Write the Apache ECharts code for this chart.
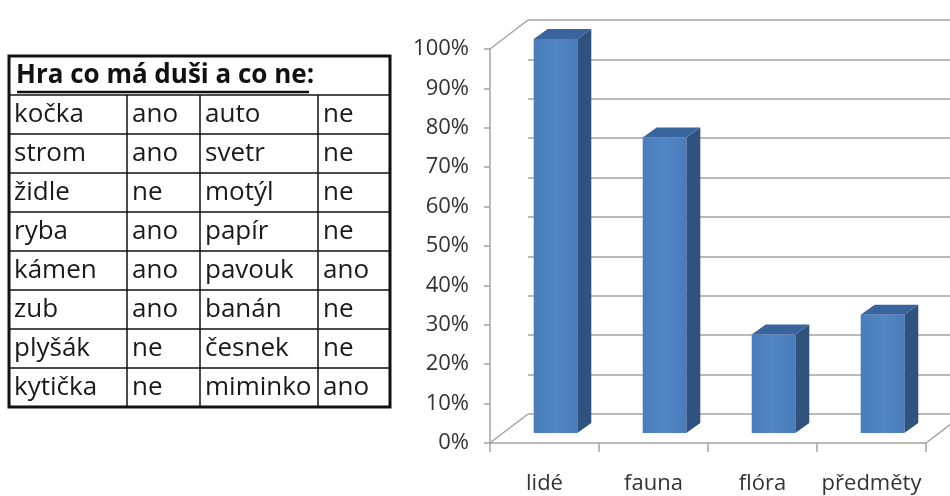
<!DOCTYPE html>
<html>
<head>
<meta charset="utf-8">
<script src="https://cdn.jsdelivr.net/npm/echarts@6/dist/echarts.min.js"></script>
<style>
  html, body { margin: 0; padding: 0; background: #fff; }
  #chart { width: 950px; height: 496px; }
</style>
</head>
<body>
<div id="chart"></div>
<script>
// data
var categories = ['lidé', 'fauna', 'flóra', 'předměty'];
var shares = [1.0, 0.75, 0.25, 0.30];
var yTicks = [0, 0.1, 0.2, 0.3, 0.4, 0.5, 0.6, 0.7, 0.8, 0.9, 1.0];

var tableTitle = 'Hra co má duši a co ne:';
var leftItems = ['kočka', 'strom', 'židle', 'ryba', 'kámen', 'zub', 'plyšák', 'kytička'];
var leftAnswers = ['ano', 'ano', 'ne', 'ano', 'ano', 'ano', 'ne', 'ne'];
var rightItems = ['auto', 'svetr', 'motýl', 'papír', 'pavouk', 'banán', 'česnek', 'miminko'];
var rightAnswers = ['ne', 'ne', 'ne', 'ne', 'ano', 'ne', 'ne', 'ano'];

// 3d look
var DEPTH_X = 38, DEPTH_Y = 29;     // back wall offset
var BAR_SHIFT_X = 11, BAR_SHIFT_Y = 10;
var BAR_SIDE_X = 14, BAR_SIDE_Y = 10;
var gridColor = '#a3a3a3';
var font = '"Open Sans", "Noto Sans", sans-serif';

var myChart = echarts.init(document.getElementById('chart'));

// table built as graphic elements
var tblX = 9, tblY = 56, titleH = 39, rowH = 39;
var colX = [9, 127, 200, 318, 390];
var tableEls = [];
tableEls.push({
    type: 'text', x: tblX + 7, y: tblY + 20,
    style: { text: tableTitle, font: 'bold 26px ' + font, fill: '#111', textVerticalAlign: 'middle' }
});
tableEls.push({
    type: 'line', shape: { x1: tblX + 8, y1: tblY + 36, x2: 309, y2: tblY + 36 },
    style: { stroke: '#111', lineWidth: 2.5 }
});
var cols = [leftItems, leftAnswers, rightItems, rightAnswers];
for (var r = 0; r < leftItems.length; r++) {
    var y0 = tblY + titleH + r * rowH;
    tableEls.push({
        type: 'line', shape: { x1: colX[0], y1: y0, x2: colX[4], y2: y0 },
        style: { stroke: '#111', lineWidth: 1.5 }
    });
    for (var c = 0; c < 4; c++) {
        tableEls.push({
            type: 'text', x: colX[c] + 5, y: y0 + rowH / 2,
            style: { text: cols[c][r], font: '26px ' + font, fill: '#1a1a1a', textVerticalAlign: 'middle' }
        });
    }
}
var tblBottom = tblY + titleH + leftItems.length * rowH;
for (var c2 = 1; c2 < 4; c2++) {
    tableEls.push({
        type: 'line', shape: { x1: colX[c2], y1: tblY + titleH, x2: colX[c2], y2: tblBottom },
        style: { stroke: '#111', lineWidth: 1.5 }
    });
}
tableEls.push({
    type: 'rect', shape: { x: colX[0], y: tblY, width: colX[4] - colX[0], height: tblBottom - tblY },
    style: { fill: null, stroke: '#111', lineWidth: 3 }
});

var option = {
    backgroundColor: '#fff',
    animation: false,
    textStyle: { fontFamily: font },
    graphic: tableEls,
    grid: [
        { left: 490, top: 49, width: 436, height: 394 },
        { left: 490 + DEPTH_X, top: 49 - DEPTH_Y, width: 436, height: 394 }
    ],
    xAxis: [
        {
            type: 'category', gridIndex: 0, data: categories,
            axisLine: { lineStyle: { color: gridColor, width: 1.5 } },
            axisTick: { show: true, length: 9, lineStyle: { color: gridColor, width: 1.5 } },
            axisLabel: { interval: 0, fontSize: 22, color: '#333', margin: 30, fontFamily: font },
            splitLine: { show: false }
        },
        {
            type: 'category', gridIndex: 1, data: categories,
            axisLine: { show: false }, axisTick: { show: false },
            axisLabel: { show: false }, splitLine: { show: false }
        }
    ],
    yAxis: [
        {
            type: 'value', gridIndex: 0, min: 0, max: 1, interval: 0.1,
            axisLine: { show: true, lineStyle: { color: gridColor, width: 1.5 } },
            axisTick: { show: true, length: 6, lineStyle: { color: gridColor, width: 1.5 } },
            axisLabel: {
                fontSize: 22, color: '#333', margin: 21, fontFamily: font,
                formatter: function (v) { return Math.round(v * 100) + '%'; }
            },
            splitLine: { show: false }
        },
        {
            type: 'value', gridIndex: 1, min: 0, max: 1, interval: 0.1,
            axisLine: { show: false }, axisTick: { show: false }, axisLabel: { show: false },
            splitLine: { show: true, lineStyle: { color: gridColor, width: 1.5 } }
        }
    ],
    series: [
        {
            // side wall + floor diagonals
            type: 'custom', xAxisIndex: 0, yAxisIndex: 0, z: 1,
            data: yTicks,
            renderItem: function (params, api) {
                var cs = params.coordSys;
                var p = api.coord([0, api.value(0)]);
                var children = [{
                    type: 'line',
                    shape: { x1: cs.x, y1: p[1], x2: cs.x + DEPTH_X, y2: p[1] - DEPTH_Y },
                    style: { stroke: gridColor, lineWidth: 1.5 }
                }];
                if (params.dataIndex === 0) {
                    children.push({
                        type: 'line',
                        shape: { x1: cs.x + cs.width, y1: p[1], x2: cs.x + cs.width + DEPTH_X, y2: p[1] - DEPTH_Y },
                        style: { stroke: gridColor, lineWidth: 1.5 }
                    });
                }
                return { type: 'group', children: children };
            }
        },
        {
            // 3d bars
            type: 'custom', xAxisIndex: 0, yAxisIndex: 0, z: 3,
            data: shares.map(function (v, i) { return [i, v]; }),
            renderItem: function (params, api) {
                var base = api.coord([api.value(0), 0]);
                var top = api.coord([api.value(0), api.value(1)]);
                var w = api.size([1, 0])[0] * 0.4;
                var x0 = base[0] - w / 2 + BAR_SHIFT_X;
                var x1 = x0 + w;
                var yb = base[1] - BAR_SHIFT_Y;
                var yt = top[1] - BAR_SHIFT_Y;
                return {
                    type: 'group',
                    children: [
                        {
                            type: 'polygon',
                            shape: { points: [[x1, yt], [x1 + BAR_SIDE_X, yt - BAR_SIDE_Y], [x1 + BAR_SIDE_X, yb - BAR_SIDE_Y], [x1, yb]] },
                            style: { fill: '#2f527f' }
                        },
                        {
                            type: 'polygon',
                            shape: { points: [[x0, yt], [x0 + BAR_SIDE_X, yt - BAR_SIDE_Y], [x1 + BAR_SIDE_X, yt - BAR_SIDE_Y], [x1, yt]] },
                            style: { fill: '#3a649e' }
                        },
                        {
                            type: 'rect',
                            shape: { x: x0, y: yt, width: w, height: yb - yt },
                            style: {
                                fill: new echarts.graphic.LinearGradient(0, 0, 1, 0, [
                                    { offset: 0, color: '#4a7cba' },
                                    { offset: 0.5, color: '#5286c5' },
                                    { offset: 1, color: '#4a7cba' }
                                ])
                            }
                        }
                    ]
                };
            }
        }
    ]
};

myChart.setOption(option);
window.onresize = function () { myChart.resize(); };
</script>
</body>
</html>
